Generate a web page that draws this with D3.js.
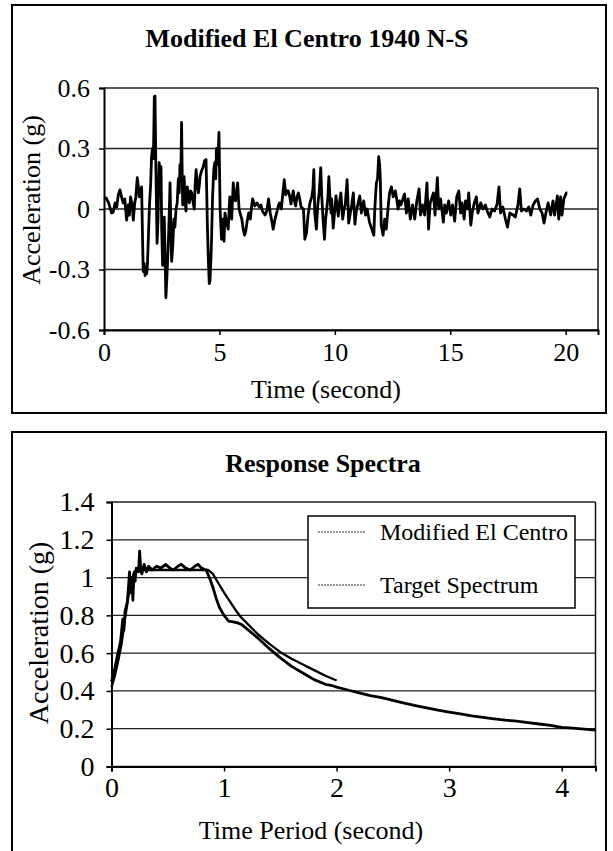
<!DOCTYPE html>
<html><head><meta charset="utf-8">
<script src="https://cdn.jsdelivr.net/npm/d3@7"></script>
<style>
html,body{margin:0;padding:0;background:#fff;}
svg{display:block;}
text{font-family:"Liberation Serif","Times New Roman",serif;fill:#000;}
</style></head>
<body>
<svg id="chart" width="613" height="851"></svg>
<script>
// ---- Data: top chart (ground acceleration record) ----
const quakeTitle = "Modified El Centro 1940 N-S";
const quakeT = [0.00,0.09,0.20,0.33,0.40,0.48,0.55,0.62,0.69,0.76,0.83,0.90,0.98,1.05,1.10,1.15,1.22,1.27,1.33,1.38,1.44,1.50,1.53,1.58,1.63,1.67,1.70,1.74,1.78,1.82,1.85,1.88,1.92,1.97,2.02,2.06,2.10,2.14,2.18,2.21,2.24,2.30,2.34,2.39,2.43,2.47,2.50,2.54,2.58,2.61,2.65,2.68,2.72,2.78,2.82,2.86,2.90,2.93,2.98,3.03,3.07,3.12,3.17,3.22,3.26,3.29,3.33,3.36,3.39,3.41,3.44,3.47,3.51,3.55,3.58,3.61,3.65,3.70,3.75,3.80,3.85,3.91,3.95,3.99,4.04,4.09,4.13,4.16,4.23,4.30,4.36,4.42,4.45,4.48,4.52,4.56,4.59,4.63,4.66,4.70,4.73,4.76,4.80,4.84,4.87,4.93,4.98,5.03,5.09,5.14,5.20,5.24,5.30,5.38,5.45,5.50,5.53,5.60,5.65,5.70,5.75,5.79,5.85,5.92,5.97,6.03,6.09,6.14,6.19,6.27,6.34,6.40,6.44,6.53,6.63,6.72,6.80,6.86,6.92,6.98,7.05,7.13,7.20,7.27,7.33,7.41,7.50,7.56,7.61,7.68,7.75,7.81,7.87,7.93,7.98,8.05,8.10,8.15,8.20,8.25,8.30,8.36,8.42,8.48,8.54,8.64,8.70,8.77,8.84,8.92,9.00,9.05,9.09,9.13,9.20,9.26,9.32,9.39,9.43,9.49,9.55,9.60,9.65,9.70,9.74,9.79,9.84,9.86,9.93,10.00,10.05,10.10,10.15,10.20,10.26,10.34,10.40,10.45,10.53,10.56,10.60,10.67,10.73,10.80,10.87,10.93,10.99,11.08,11.15,11.25,11.33,11.40,11.50,11.60,11.69,11.72,11.76,11.80,11.85,11.90,11.94,11.97,12.01,12.09,12.16,12.23,12.30,12.37,12.45,12.53,12.62,12.68,12.74,12.80,12.86,12.92,13.02,13.10,13.18,13.27,13.37,13.46,13.55,13.65,13.71,13.80,13.89,13.99,14.06,14.13,14.27,14.34,14.44,14.50,14.58,14.70,14.76,14.83,14.93,15.02,15.10,15.19,15.28,15.37,15.45,15.51,15.60,15.66,15.74,15.80,15.89,15.95,16.04,16.13,16.20,16.32,16.42,16.52,16.60,16.71,16.81,16.92,17.03,17.11,17.18,17.28,17.39,17.48,17.58,17.72,17.82,17.93,18.01,18.08,18.19,18.30,18.40,18.49,18.59,18.69,18.78,18.88,18.98,19.06,19.16,19.24,19.35,19.45,19.52,19.64,19.70,19.78,19.84,19.92,20.03,20.07];
const quakeA = [0.05,0.055,0.03,-0.02,-0.015,0.03,0.01,0.07,0.095,0.06,0.03,0.05,-0.055,0.02,-0.03,0.06,0.02,-0.055,0.03,0.06,0.155,0.10,0.06,0.09,0.11,-0.15,-0.31,-0.27,-0.33,-0.30,-0.32,-0.28,-0.15,0.02,0.12,0.26,0.30,0.25,0.557,0.56,0.26,-0.17,-0.05,0.23,0.15,0.21,-0.10,-0.28,-0.18,-0.04,-0.25,-0.44,-0.35,-0.19,-0.05,0.13,-0.10,-0.26,-0.18,-0.05,-0.09,0.0,0.03,0.15,0.08,0.22,0.18,0.43,0.15,0.02,0.10,0.16,0.05,-0.01,0.08,0.11,0.06,0.03,0.09,0.08,0.04,0.0,0.12,0.195,0.12,0.08,0.12,0.16,0.19,0.21,0.24,0.245,0.08,-0.09,-0.25,-0.37,-0.36,-0.25,-0.15,0.05,0.13,0.20,0.23,0.15,0.30,0.22,0.38,0.0,-0.15,-0.05,-0.16,-0.02,-0.06,-0.10,0.06,0.02,-0.05,0.13,0.06,0.04,0.09,0.13,0.0,-0.03,-0.05,-0.10,-0.13,-0.11,-0.07,-0.02,-0.05,0.02,0.05,0.015,0.03,0.01,0.02,-0.01,-0.02,-0.03,-0.01,0.05,-0.02,-0.06,-0.10,-0.05,-0.01,0.02,0.03,0.0,0.08,0.145,0.07,0.09,0.09,0.06,0.025,0.06,0.09,0.04,0.015,0.06,0.08,0.05,0.01,0.0,-0.15,-0.12,-0.03,0.03,0.06,0.10,0.195,-0.02,-0.10,0.02,0.08,0.205,0.07,-0.05,-0.15,-0.05,0.0,0.06,0.16,0.05,-0.02,0.05,-0.095,0.0,0.065,0.01,-0.035,0.03,0.08,-0.05,0.0,0.02,0.145,0.06,-0.07,-0.02,0.02,0.08,-0.075,-0.01,0.02,0.065,-0.02,0.04,-0.03,0.0,-0.065,-0.10,-0.13,-0.03,0.06,0.13,0.15,0.26,0.22,0.15,-0.08,-0.13,-0.05,-0.10,0.0,0.08,0.11,0.06,0.09,0.05,0.0,0.04,0.02,0.04,0.075,-0.02,0.05,-0.05,0.02,-0.05,0.04,0.10,-0.03,0.02,-0.03,0.13,-0.10,0.03,0.08,-0.03,0.155,0.0,0.05,-0.065,0.02,-0.02,0.04,-0.03,0.02,-0.06,0.06,0.09,-0.02,0.03,-0.05,0.04,0.0,0.08,-0.08,-0.02,0.03,0.06,-0.02,0.03,0.0,0.02,-0.01,-0.04,0.0,-0.01,0.025,0.11,-0.02,0.01,-0.05,-0.09,-0.02,-0.03,-0.04,0.02,0.10,-0.01,0.0,-0.01,0.01,-0.03,0.02,0.04,0.05,0.0,-0.02,-0.07,-0.01,0.03,-0.03,0.04,-0.03,0.065,-0.05,0.06,-0.03,0.05,0.08,0.08];
const topXTicks = [0,5,10,15,20];
const topYTicks = [-0.6,-0.3,0,0.3,0.6];
const topYLabels = ["-0.6","-0.3","0","0.3","0.6"];

// ---- Data: bottom chart (response spectra) ----
const spectraTitle = "Response Spectra";
const seriesNames = ["Modified El Centro","Target Spectrum"];
const modT = [0.00,0.03,0.05,0.08,0.10,0.11,0.12,0.14,0.15,0.16,0.17,0.18,0.19,0.20,0.21,0.22,0.24,0.25,0.26,0.27,0.29,0.31,0.33,0.36,0.40,0.44,0.48,0.52,0.55,0.59,0.62,0.66,0.70,0.74,0.77,0.80,0.84,0.87,0.90,0.93,0.96,1.00,1.04,1.08,1.12,1.16,1.22,1.30,1.40,1.50,1.60,1.70,1.80,1.90,1.95,2.00,2.10,2.20,2.30,2.40,2.50,2.60,2.70,2.80,2.90,3.00,3.10,3.20,3.30,3.40,3.50,3.60,3.70,3.80,3.90,4.00,4.10,4.20,4.30];
const modA = [0.45,0.52,0.58,0.66,0.78,0.72,0.82,0.87,0.94,1.03,0.92,1.00,0.88,1.02,0.98,1.05,1.03,1.14,1.04,1.02,1.07,1.03,1.06,1.04,1.06,1.05,1.07,1.05,1.04,1.06,1.07,1.05,1.04,1.06,1.07,1.05,1.04,1.00,0.95,0.89,0.84,0.80,0.77,0.765,0.76,0.75,0.72,0.68,0.625,0.575,0.53,0.495,0.46,0.435,0.43,0.42,0.405,0.39,0.375,0.365,0.35,0.335,0.322,0.31,0.298,0.288,0.278,0.268,0.26,0.252,0.245,0.24,0.232,0.225,0.218,0.207,0.203,0.198,0.192];
const tgtT = [0.00,0.03,0.06,0.09,0.12,0.15,0.18,0.20,0.22,0.86,0.90,0.95,1.00,1.05,1.10,1.15,1.20,1.30,1.40,1.50,1.60,1.70,1.80,1.90,2.00];
const tgtA = [0.42,0.48,0.56,0.65,0.78,0.90,0.98,1.03,1.04,1.04,1.02,0.97,0.92,0.875,0.83,0.79,0.76,0.70,0.65,0.605,0.57,0.54,0.51,0.48,0.455];
const botXTicks = [0,1,2,3,4];
const botYTicks = [0,0.2,0.4,0.6,0.8,1.0,1.2,1.4];
const botYLabels = ["0","0.2","0.4","0.6","0.8","1","1.2","1.4"];

const svg = d3.select("#chart");

function panel(cfg){
  const g = svg.append("g");
  g.append("rect").attr("x",cfg.box[0]).attr("y",cfg.box[1])
    .attr("width",cfg.box[2]-cfg.box[0]).attr("height",cfg.box[3]-cfg.box[1])
    .attr("fill","none").attr("stroke","#000").attr("stroke-width",2);
  const x = cfg.x, y = cfg.y;
  const [x0,x1] = x.range(), [y0,y1] = y.range();
  g.append("g").selectAll("line").data(cfg.yTicks).join("line")
    .attr("x1",x0).attr("x2",x1).attr("y1",d=>y(d)).attr("y2",d=>y(d))
    .attr("stroke","#222").attr("stroke-width",1.3);
  g.append("line").attr("x1",x1).attr("x2",x1).attr("y1",y1).attr("y2",y0)
    .attr("stroke","#111").attr("stroke-width",1.5);
  const xa = g.append("g").attr("transform",`translate(0,${y0})`)
    .call(d3.axisBottom(x).tickValues(cfg.xTicks).tickSize(5).tickPadding(cfg.xPad).tickFormat(d3.format("d")));
  const ya = g.append("g").attr("transform",`translate(${x0},0)`)
    .call(d3.axisLeft(y).tickValues(cfg.yTicks).tickSize(5).tickPadding(cfg.yPad).tickFormat((d,i)=>cfg.yLabels[i]));
  [xa,ya].forEach(a=>{
    a.select(".domain").attr("stroke","#000").attr("stroke-width",2);
    a.selectAll(".tick line").attr("stroke","#000").attr("stroke-width",1.5);
    a.selectAll("text").style("font-family","Liberation Serif").style("font-size",cfg.tickFont+"px").attr("fill","#000");
  });
  g.append("text").attr("x",cfg.titlePos[0]).attr("y",cfg.titlePos[1])
    .attr("text-anchor","middle").attr("dominant-baseline","central")
    .style("font-weight","bold").style("font-size",cfg.titleFont+"px").text(cfg.title);
  g.append("text").attr("x",cfg.xTitlePos[0]).attr("y",cfg.xTitlePos[1])
    .attr("text-anchor","middle").attr("dominant-baseline","central")
    .style("font-size",cfg.axisFont+"px").text(cfg.xTitle);
  g.append("text").attr("transform",`translate(${cfg.yTitlePos[0]},${cfg.yTitlePos[1]}) rotate(-90)`)
    .attr("text-anchor","middle").attr("dominant-baseline","central")
    .style("font-size",cfg.yAxisFont+"px").text(cfg.yTitle);
  return g;
}

// ---- Top chart ----
const xTop = d3.scaleLinear().domain([0,21.4]).range([104,598]);
const yTop = d3.scaleLinear().domain([-0.6,0.6]).range([330,88]);
const gTop = panel({box:[12,5,606,413], x:xTop, y:yTop, xTicks:topXTicks, yTicks:topYTicks, yLabels:topYLabels,
  xPad:8, yPad:9, tickFont:26, title:quakeTitle, titlePos:[307,38], titleFont:26,
  xTitle:"Time (second)", xTitlePos:[326,389], axisFont:26,
  yTitle:"Acceleration (g)", yTitlePos:[31,200], yAxisFont:26});
const quakeData = quakeT.map((t,i)=>({t, a:quakeA[i]}));
gTop.append("path").datum(quakeData)
  .attr("d", d3.line().x(d=>xTop(d.t)).y(d=>yTop(d.a)))
  .attr("fill","none").attr("stroke","#000").attr("stroke-width",2.8).attr("stroke-linejoin","round");

// ---- Bottom chart ----
const xBot = d3.scaleLinear().domain([0,4.3]).range([111.5,595.5]);
const yBot = d3.scaleLinear().domain([0,1.4]).range([766.5,502]);
const gBot = panel({box:[12,432,606,870], x:xBot, y:yBot, xTicks:botXTicks, yTicks:botYTicks, yLabels:botYLabels,
  xPad:6, yPad:12, tickFont:28, title:spectraTitle, titlePos:[323,463], titleFont:26,
  xTitle:"Time Period (second)", xTitlePos:[311,830], axisFont:26,
  yTitle:"Acceleration (g)", yTitlePos:[38,633], yAxisFont:28});
const lineBot = d3.line().x(d=>xBot(d.t)).y(d=>yBot(d.a));
gBot.append("path").datum(tgtT.map((t,i)=>({t,a:tgtA[i]})))
  .attr("d",lineBot).attr("fill","none").attr("stroke","#000").attr("stroke-width",2.3).attr("stroke-linejoin","round");
gBot.append("path").datum(modT.map((t,i)=>({t,a:modA[i]})))
  .attr("d",lineBot).attr("fill","none").attr("stroke","#000").attr("stroke-width",2.8).attr("stroke-linejoin","round");

const leg = gBot.append("g");
leg.append("rect").attr("x",308).attr("y",516).attr("width",267).attr("height",92)
  .attr("fill","#fff").attr("stroke","#000").attr("stroke-width",1.5);
const legY = [532,585];
seriesNames.forEach((n,i)=>{
  leg.append("line").attr("x1",318).attr("x2",366).attr("y1",legY[i]).attr("y2",legY[i])
    .attr("stroke","#333").attr("stroke-width",1.2).attr("stroke-dasharray","2,1");
  leg.append("text").attr("x",380).attr("y",legY[i]).attr("dominant-baseline","central")
    .style("font-size","24px").text(n);
});
</script>
</body></html>
